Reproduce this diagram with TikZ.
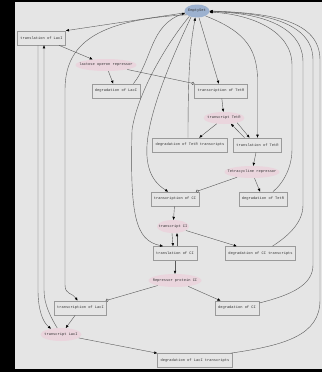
\documentclass[tikz,border=0pt]{standalone}
\usepackage{fontspec}
\newfontfamily\graphfont{Liberation Mono}
\usetikzlibrary{arrows.meta,shapes.geometric,positioning}
\definecolor{canvas}{HTML}{E5E5E5}
\definecolor{emptyblue}{HTML}{9CB1CF}
\definecolor{speciespink}{HTML}{EAD5DD}
\definecolor{boxline}{HTML}{9A9A9A}

\begin{document}
\begin{tikzpicture}[
        x=1pt, y=1pt, on grid,
        every node/.style={font=\graphfont\fontsize{3.7pt}{4.4pt}\selectfont, text=black!80},
        reaction/.style={rectangle, draw=boxline, line width=0.7pt, fill=canvas, inner xsep=3pt, minimum height=14pt},
        species/.style={ellipse, fill=speciespink, inner xsep=-12pt, inner ysep=0pt},
        edge/.style={draw=black!65, line width=0.4pt, -{Triangle[length=3pt,width=2.4pt,color=black]}},
        inhib/.style={draw=black!65, line width=0.4pt, -{Circle[open,length=3pt,color=black!70]}}
    ]

    \useasboundingbox (0,0) rectangle (322,-372);
    \fill[black] (0,0) rectangle (322,-372);
    \fill[canvas] (15,-1.5) rectangle (322,-368.5);

    % Nodes
    \node (empty) [species, fill=emptyblue, minimum width=25pt, minimum height=13pt] at (197,-11) {EmptySet};
    \node (tlLacI) [reaction, below left=27pt and 155.5pt of empty] {translation of LacI};
    \node (pLacI) [species, minimum width=61pt, minimum height=12pt, below right=27pt and 64.5pt of tlLacI] {lactose operon repressor};
    \node (dLacI) [reaction, below right=26pt and 10pt of pLacI] {degradation of LacI};
    \node (tcTetR) [reaction, right=105pt of dLacI] {transcription of TetR};
    \node (mTetR) [species, minimum width=41pt, minimum height=12pt, below right=27pt and 3pt of tcTetR] {transcript TetR};
    \node (dmTetR) [reaction, below left=27pt and 34pt of mTetR] {degradation of TetR transcripts};
    \node (tlTetR) [reaction, right=67.5pt of dmTetR] {translation of TetR};
    \node (pTetR) [species, minimum width=55pt, minimum height=12pt, below left=27pt and 5.5pt of tlTetR] {Tetracycline repressor};
    \node (tcCI) [reaction, below left=27pt and 77pt of pTetR] {transcription of CI};
    \node (dTetR) [reaction, right=88pt of tcCI] {degradation of TetR};
    \node (mCI) [species, minimum width=32pt, minimum height=13pt, below left=27.5pt and 2pt of tcCI] {transcript CI};
    \node (tlCI) [reaction, below right=27pt and 2pt of mCI] {translation of CI};
    \node (dmCI) [reaction, right=85.5pt of tlCI] {degradation of CI transcripts};
    \node (pCI) [species, minimum width=53pt, minimum height=13pt, below=27pt of tlCI] {Repressor protein CI};
    \node (tcLacI) [reaction, below left=27.5pt and 94.5pt of pCI] {transcription of LacI};
    \node (dCI) [reaction, right=156.5pt of tcLacI] {degradation of CI};
    \node (mLacI) [species, minimum width=41pt, minimum height=13pt, below left=26.5pt and 19.5pt of tcLacI] {transcript LacI};
    \node (dmLacI) [reaction, below right=26pt and 134pt of mLacI] {degradation of LacI transcripts};

    % Edges
    \draw[edge] (empty) -- (tlLacI.north east);
    \draw[edge] (tlLacI) -- (pLacI);
    \draw[edge] (pLacI) -- (dLacI);
    \draw[edge] ([xshift=-7pt]dLacI.north east) .. controls +(19,24) and +(-35,-12) .. (empty.190);
    \draw[inhib] (pLacI) -- (tcTetR.north west);
    \draw[edge] (empty) -- (tcTetR);
    \draw[edge] (tcTetR) -- (mTetR);
    \draw[edge] (mTetR) -- (dmTetR);
    \draw[edge] ([xshift=-2pt]dmTetR.north) .. controls +(0,78) and +(-4,-23) .. (empty.255);
    \draw[edge] (mTetR.-20) -- ([xshift=-8pt]tlTetR.north);
    \draw[edge] ([xshift=-13pt]tlTetR.north) -- (mTetR.-40);
    \draw[edge] (empty.330) .. controls +(35,-14) and +(0,35) .. (tlTetR.north |- 0,-80) -- (tlTetR.north);
    \draw[edge] (tlTetR) -- (pTetR);
    \draw[edge] (pTetR) -- (dTetR);
    \draw[inhib] (pTetR) -- (tcCI);
    \draw[edge] ([xshift=10pt]dTetR.north) .. controls +(12,10) and +(0,-15) .. (292,-150) -- (292,-65) .. controls +(0,35) and +(40,-2) .. (empty.-5);
    \draw[edge] (empty.225) .. controls +(-13,-28) and +(3,40) .. (147,-145) .. controls +(-2,-30) and +(-10,6.5) .. ([xshift=-7pt]tcCI.north);
    \draw[edge] (tcCI) -- (mCI);
    \draw[edge] ([xshift=-1pt]mCI.south) -- ([xshift=-2pt]tlCI.north);
    \draw[edge] ([xshift=2pt]tlCI.north) -- ([xshift=4pt]mCI.south);
    \draw[edge] (empty.215) .. controls +(-20,-24) and +(6,40) .. (132,-130) .. controls +(-2,-85) and +(-28,6) .. ([xshift=-12pt]tlCI.north);
    \draw[edge] (mCI) -- (dmCI);
    \draw[edge] ([xshift=12pt]dmCI.north) .. controls +(17,11) and +(0,-17) .. (303,-205) -- (303,-62) .. controls +(0,37) and +(48,-1) .. (empty.-3);
    \draw[edge] (tlCI) -- (pCI);
    \draw[edge] (pCI) -- (dCI);
    \draw[inhib] (pCI) -- (tcLacI);
    \draw[edge] ([yshift=5pt]dCI.east) .. controls +(32,8) and +(0,-20) .. (313,-265) -- (313,-60) .. controls +(0,38) and +(53,-1) .. (empty.-2);
    \draw[edge] (empty.200) .. controls +(-92,-5) and +(0,45) .. (65,-90) -- (65,-285) .. controls +(0,-10) and +(-5,8) .. ([xshift=-3pt]tcLacI.north);
    \draw[edge] (tcLacI) -- (mLacI);
    \draw[edge] ([xshift=-3.5pt]tlLacI.south) -- (38,-290) .. controls +(0,-20) and +(-8,6.5) .. (mLacI.150);
    \draw[edge] (mLacI.120) .. controls +(-6,10) and +(0,-15) .. (44,-290) -- ([xshift=2.5pt]tlLacI.south);
    \draw[edge] (mLacI) -- (dmLacI);
    \draw[edge] ([xshift=-2pt]dmLacI.north east) .. controls +(55,8) and +(0,-35) .. (320,-300) -- (320,-60) .. controls +(0,40) and +(60,-2) .. (empty.east);

\end{tikzpicture}
\end{document}
